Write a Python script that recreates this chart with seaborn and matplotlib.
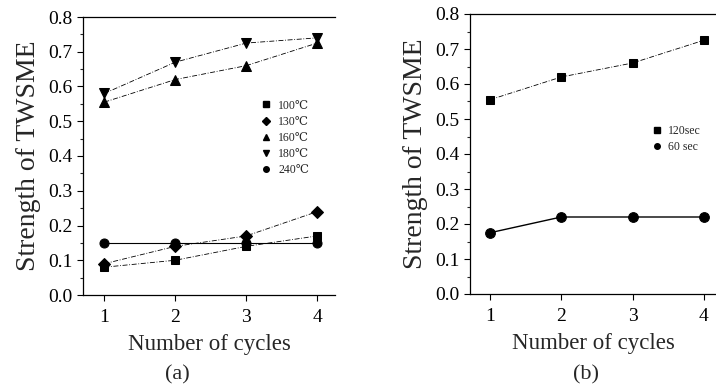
import numpy as np
import pandas as pd
import matplotlib
matplotlib.use("Agg")
import matplotlib.pyplot as plt
from matplotlib.lines import Line2D
from matplotlib.ticker import MultipleLocator
import seaborn as sns

sns.set_style("ticks")
plt.rcParams["font.family"] = ["Liberation Serif", "DejaVu Serif"]

# ── data ────────────────────────────────────────────────
cycles = [1, 2, 3, 4]

# (a) annealing temperature
temp_labels = ["100\u2103", "130\u2103", "160\u2103", "180\u2103", "240\u2103"]
t100 = [0.08, 0.10, 0.14, 0.17]
t130 = [0.09, 0.14, 0.17, 0.24]
t160 = [0.555, 0.62, 0.66, 0.725]
t180 = [0.58, 0.67, 0.725, 0.74]
t240 = [0.15, 0.15, 0.15, 0.15]

# (b) annealing time
time_labels = ["120sec", "60 sec"]
s120 = [0.555, 0.62, 0.66, 0.725]
s60 = [0.175, 0.22, 0.22, 0.22]

W, H = 716, 392
fig = plt.figure(figsize=(W / 100, H / 100), dpi=100)
ax_a = fig.add_axes([83 / W, 1 - 295 / H, (335 - 83) / W, (295 - 17) / H])
ax_b = fig.add_axes([470 / W, 1 - 294 / H, (716 - 470) / W, (294 - 14) / H])

dashdot = (0, (6, 2, 1, 2))

def draw(ax, vals, marker, ls, lw, ms):
    sns.lineplot(x=cycles, y=vals, ax=ax, color="black", marker=marker,
                 markersize=ms, linestyle=ls, linewidth=lw,
                 markeredgecolor="black", legend=False)

series_a = [(t100, "s", dashdot, 0.6, 6),
            (t130, "D", dashdot, 0.6, 6),
            (t160, "^", dashdot, 0.6, 7),
            (t180, "v", dashdot, 0.6, 7),
            (t240, "o", "-", 0.8, 6.5)]
for vals, m, ls, lw, ms in series_a:
    draw(ax_a, vals, m, ls, lw, ms)

series_b = [(s120, "s", dashdot, 0.6, 6),
            (s60, "o", "-", 1.0, 7)]
for vals, m, ls, lw, ms in series_b:
    draw(ax_b, vals, m, ls, lw, ms)

for ax, xlim in [(ax_a, (0.70, 4.25)), (ax_b, (0.72, 4.17))]:
    ax.set_xlim(*xlim)
    ax.set_ylim(0, 0.8)
    ax.set_xticks(cycles)
    ax.yaxis.set_major_locator(MultipleLocator(0.1))
    ax.yaxis.set_minor_locator(MultipleLocator(0.05))
    ax.yaxis.set_major_formatter(matplotlib.ticker.FormatStrFormatter("%.1f"))
    ax.tick_params(axis="both", which="major", direction="out", length=4,
                   width=0.8, labelsize=14, colors="black")
    ax.tick_params(axis="y", which="minor", direction="out", length=2.5, width=0.8)
    ax.tick_params(axis="x", pad=6)
    for side in ["left", "bottom", "top"]:
        ax.spines[side].set_visible(True)
        ax.spines[side].set_color("black")
        ax.spines[side].set_linewidth(0.9)
    ax.spines["right"].set_visible(False)
    ax.set_xlabel("Number of cycles", fontsize=16.5, labelpad=6)
    ax.set_ylabel("Strength of TWSME", fontsize=20, labelpad=5)
    ax.set_facecolor("white")

def marker_legend(ax, labels, markers, loc):
    handles = [Line2D([], [], color="black", marker=m, linestyle="none",
                      markersize=4) for m in markers]
    ax.legend(handles, labels, loc="upper left", bbox_to_anchor=loc,
              frameon=False, fontsize=8.5, handlelength=0.8, handletextpad=0.6,
              labelspacing=0.35, borderaxespad=0)

marker_legend(ax_a, temp_labels, ["s", "D", "^", "v", "o"], (0.69, 0.72))
marker_legend(ax_b, time_labels, ["s", "o"], (0.72, 0.62))

fig.text(177 / W, 1 - 375 / H, "(a)", ha="center", va="center", fontsize=16)
fig.text(586 / W, 1 - 375 / H, "(b)", ha="center", va="center", fontsize=16)

fig.savefig("out.png", dpi=100, facecolor="white")
